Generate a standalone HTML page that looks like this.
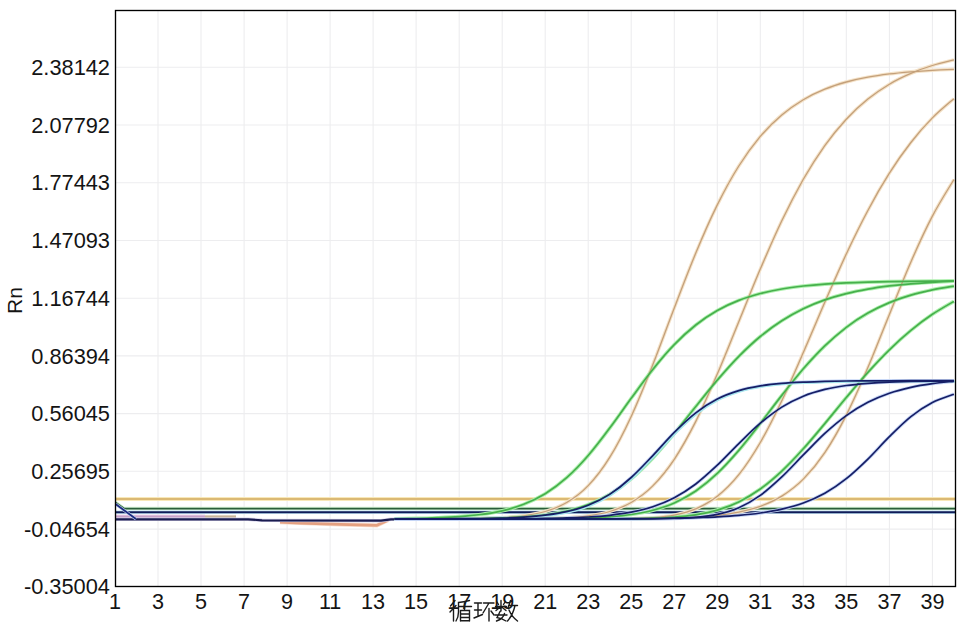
<!DOCTYPE html><html><head><meta charset="utf-8"><style>html,body{margin:0;padding:0;background:#fff;width:968px;height:628px;overflow:hidden}svg{display:block}text{font-family:"Liberation Sans",sans-serif;fill:#141414}</style></head><body>
<svg width="968" height="628" viewBox="0 0 968 628">
<path d="M158.0 10.5V586.5M201.0 10.5V586.5M244.1 10.5V586.5M287.1 10.5V586.5M330.1 10.5V586.5M373.1 10.5V586.5M416.1 10.5V586.5M459.2 10.5V586.5M502.2 10.5V586.5M545.2 10.5V586.5M588.2 10.5V586.5M631.2 10.5V586.5M674.3 10.5V586.5M717.3 10.5V586.5M760.3 10.5V586.5M803.3 10.5V586.5M846.3 10.5V586.5M889.4 10.5V586.5M932.4 10.5V586.5M115.5 67.3H955.5M115.5 125.0H955.5M115.5 182.7H955.5M115.5 240.5H955.5M115.5 298.2H955.5M115.5 355.9H955.5M115.5 413.6H955.5M115.5 471.3H955.5M115.5 529.1H955.5" stroke="#ededef" stroke-width="1.1" fill="none"/>
<text x="110" y="74.9" font-size="21.8" text-anchor="end">2.38142</text>
<text x="110" y="132.6" font-size="21.8" text-anchor="end">2.07792</text>
<text x="110" y="190.3" font-size="21.8" text-anchor="end">1.77443</text>
<text x="110" y="248.1" font-size="21.8" text-anchor="end">1.47093</text>
<text x="110" y="305.8" font-size="21.8" text-anchor="end">1.16744</text>
<text x="110" y="363.5" font-size="21.8" text-anchor="end">0.86394</text>
<text x="110" y="421.2" font-size="21.8" text-anchor="end">0.56045</text>
<text x="110" y="478.9" font-size="21.8" text-anchor="end">0.25695</text>
<text x="110" y="536.7" font-size="21.8" text-anchor="end">-0.04654</text>
<text x="110" y="594.4" font-size="21.8" text-anchor="end">-0.35004</text>
<text x="115.0" y="609" font-size="21.6" text-anchor="middle">1</text>
<text x="158.0" y="609" font-size="21.6" text-anchor="middle">3</text>
<text x="201.0" y="609" font-size="21.6" text-anchor="middle">5</text>
<text x="244.1" y="609" font-size="21.6" text-anchor="middle">7</text>
<text x="287.1" y="609" font-size="21.6" text-anchor="middle">9</text>
<text x="330.1" y="609" font-size="21.6" text-anchor="middle">11</text>
<text x="373.1" y="609" font-size="21.6" text-anchor="middle">13</text>
<text x="416.1" y="609" font-size="21.6" text-anchor="middle">15</text>
<text x="459.2" y="609" font-size="21.6" text-anchor="middle">17</text>
<text x="502.2" y="609" font-size="21.6" text-anchor="middle">19</text>
<text x="545.2" y="609" font-size="21.6" text-anchor="middle">21</text>
<text x="588.2" y="609" font-size="21.6" text-anchor="middle">23</text>
<text x="631.2" y="609" font-size="21.6" text-anchor="middle">25</text>
<text x="674.3" y="609" font-size="21.6" text-anchor="middle">27</text>
<text x="717.3" y="609" font-size="21.6" text-anchor="middle">29</text>
<text x="760.3" y="609" font-size="21.6" text-anchor="middle">31</text>
<text x="803.3" y="609" font-size="21.6" text-anchor="middle">33</text>
<text x="846.3" y="609" font-size="21.6" text-anchor="middle">35</text>
<text x="889.4" y="609" font-size="21.6" text-anchor="middle">37</text>
<text x="932.4" y="609" font-size="21.6" text-anchor="middle">39</text>
<text x="0" y="0" font-size="21" text-anchor="middle" transform="translate(21.5 300.5) rotate(-90)">Rn</text>
<path d="M115.5 516.6H205" stroke="#ecd8ec" stroke-width="4" fill="none" stroke-linejoin="round"/>
<path d="M115.5 516.6H205" stroke="#c8a0c8" stroke-width="2.4" fill="none" stroke-linejoin="round"/>
<path d="M205 516.7H236" stroke="#efe4d8" stroke-width="3.5" fill="none" stroke-linejoin="round"/>
<path d="M205 516.7H236" stroke="#c8b49a" stroke-width="2.2" fill="none" stroke-linejoin="round"/>
<path d="M280 522.2 L300 523 L340 524.4 L377 525.3 L388 520.2" stroke="#f8dccc" stroke-width="4.2" fill="none" stroke-linejoin="round"/>
<path d="M280 522.2 L300 523 L340 524.4 L377 525.3 L388 520.2" stroke="#e4a080" stroke-width="2.8" fill="none" stroke-linejoin="round"/>
<path d="M115.5 519.6H209" stroke="#cfe8cf" stroke-width="3" fill="none" stroke-linejoin="round"/>
<path d="M115.5 519.6H209" stroke="#2f5a3a" stroke-width="1.8" fill="none" stroke-linejoin="round"/>
<path d="M115.5 499H955.5" stroke="#f8e8b8" stroke-width="4" fill="none" stroke-linejoin="round"/>
<path d="M115.5 499H955.5" stroke="#d2aa5e" stroke-width="1.7" fill="none" stroke-linejoin="round"/>
<path d="M115.5 502.5L124 508.6H955.5" stroke="#d4f2d4" stroke-width="3.5" fill="none" stroke-linejoin="round"/>
<path d="M115.5 502.5L124 508.6H955.5" stroke="#2a5e3a" stroke-width="1.8" fill="none" stroke-linejoin="round"/>
<path d="M115.5 512.3H955.5" stroke="#c4e4f4" stroke-width="3.5" fill="none" stroke-linejoin="round"/>
<path d="M115.5 512.3H955.5" stroke="#101c58" stroke-width="1.9" fill="none" stroke-linejoin="round"/>
<path d="M115.5 519.3H248 L262 520.3 L381 520.7 L391 519.3 L420 519.1" stroke="#d8d4ec" stroke-width="3.5" fill="none" stroke-linejoin="round"/>
<path d="M115.5 519.3H248 L262 520.3 L381 520.7 L391 519.3 L420 519.1" stroke="#1a1c50" stroke-width="2.2" fill="none" stroke-linejoin="round"/>
<path d="M115.5 504L136 519" stroke="#c8d8f0" stroke-width="3" fill="none" stroke-linejoin="round"/>
<path d="M115.5 504L136 519" stroke="#1c2a80" stroke-width="1.8" fill="none" stroke-linejoin="round"/>
<path d="M394.6 519.0 C398.2 519.0 409.0 519.0 416.1 519.0 C423.3 519.0 430.5 519.0 437.7 518.9 C444.8 518.9 452.0 518.9 459.2 518.8 C466.3 518.7 473.5 518.7 480.7 518.5 C487.8 518.3 495.0 518.1 502.2 517.7 C509.4 517.2 516.5 516.8 523.7 515.8 C530.9 514.7 538.0 513.7 545.2 511.5 C552.4 509.3 559.5 506.8 566.7 502.5 C573.9 498.2 581.1 493.1 588.2 485.6 C595.4 478.1 602.6 468.9 609.7 457.4 C616.9 445.8 624.1 431.8 631.2 416.4 C638.4 400.9 645.6 382.8 652.8 364.7 C659.9 346.7 667.1 326.6 674.3 308.0 C681.4 289.4 688.6 270.2 695.8 253.1 C702.9 235.9 710.1 219.4 717.3 204.9 C724.5 190.4 731.6 177.4 738.8 166.0 C746.0 154.6 753.1 145.0 760.3 136.4 C767.5 127.9 774.6 121.0 781.8 114.9 C789.0 108.8 796.2 104.0 803.3 99.7 C810.5 95.4 817.7 92.1 824.8 89.2 C832.0 86.2 839.2 84.0 846.3 82.0 C853.5 80.0 860.7 78.5 867.9 77.2 C875.0 75.8 882.2 74.8 889.4 73.9 C896.5 73.0 903.7 72.4 910.9 71.8 C918.0 71.2 925.2 70.7 932.4 70.3 C939.6 69.9 950.3 69.5 953.9 69.3" stroke="#f4e2c8" stroke-width="3.4" fill="none"/>
<path d="M394.6 519.0 C398.2 519.0 409.0 519.0 416.1 519.0 C423.3 519.0 430.5 519.0 437.7 519.0 C444.8 519.0 452.0 519.0 459.2 519.0 C466.3 519.0 473.5 519.0 480.7 519.0 C487.8 519.0 495.0 519.0 502.2 518.9 C509.4 518.9 516.5 518.9 523.7 518.8 C530.9 518.8 538.0 518.7 545.2 518.5 C552.4 518.4 559.5 518.2 566.7 517.8 C573.9 517.3 581.1 516.9 588.2 515.8 C595.4 514.8 602.6 513.7 609.7 511.5 C616.9 509.2 624.1 506.7 631.2 502.5 C638.4 498.2 645.6 493.2 652.8 485.9 C659.9 478.7 667.1 470.0 674.3 459.3 C681.4 448.5 688.6 435.6 695.8 421.4 C702.9 407.2 710.1 390.7 717.3 374.1 C724.5 357.5 731.6 339.2 738.8 321.7 C746.0 304.2 753.1 285.9 760.3 269.1 C767.5 252.3 774.6 235.8 781.8 220.8 C789.0 205.8 796.2 191.9 803.3 179.3 C810.5 166.8 817.7 155.6 824.8 145.6 C832.0 135.5 839.2 126.9 846.3 119.2 C853.5 111.4 860.7 104.9 867.9 99.1 C875.0 93.3 882.2 88.5 889.4 84.2 C896.5 79.9 903.7 76.5 910.9 73.4 C918.0 70.2 925.2 67.7 932.4 65.5 C939.6 63.2 950.3 60.8 953.9 59.9" stroke="#f4e2c8" stroke-width="3.4" fill="none"/>
<path d="M394.6 519.0 C398.2 519.0 409.0 519.0 416.1 519.0 C423.3 519.0 430.5 519.0 437.7 519.0 C444.8 519.0 452.0 519.0 459.2 519.0 C466.3 519.0 473.5 519.0 480.7 519.0 C487.8 519.0 495.0 519.0 502.2 519.0 C509.4 519.0 516.5 519.0 523.7 519.0 C530.9 519.0 538.0 519.0 545.2 519.0 C552.4 519.0 559.5 519.0 566.7 519.0 C573.9 519.0 581.1 519.0 588.2 519.0 C595.4 519.0 602.6 519.0 609.7 518.9 C616.9 518.8 624.1 518.8 631.2 518.6 C638.4 518.4 645.6 518.3 652.8 517.7 C659.9 517.1 667.1 516.5 674.3 515.1 C681.4 513.6 688.6 512.0 695.8 508.9 C702.9 505.8 710.1 502.0 717.3 496.3 C724.5 490.6 731.6 483.7 738.8 474.7 C746.0 465.7 753.1 454.8 760.3 442.5 C767.5 430.1 774.6 415.7 781.8 400.7 C789.0 385.7 796.2 368.9 803.3 352.5 C810.5 336.1 817.7 318.7 824.8 302.3 C832.0 285.9 839.2 269.3 846.3 254.0 C853.5 238.7 860.7 223.9 867.9 210.5 C875.0 197.0 882.2 184.5 889.4 173.2 C896.5 161.8 903.7 151.7 910.9 142.5 C918.0 133.3 925.2 125.2 932.4 117.9 C939.6 110.6 950.3 101.9 953.9 98.7" stroke="#f4e2c8" stroke-width="3.4" fill="none"/>
<path d="M394.6 519.0 C398.2 519.0 409.0 519.0 416.1 519.0 C423.3 519.0 430.5 519.0 437.7 519.0 C444.8 519.0 452.0 519.0 459.2 519.0 C466.3 519.0 473.5 519.0 480.7 519.0 C487.8 519.0 495.0 519.0 502.2 519.0 C509.4 519.0 516.5 519.0 523.7 519.0 C530.9 519.0 538.0 519.0 545.2 519.0 C552.4 519.0 559.5 519.0 566.7 519.0 C573.9 519.0 581.1 518.9 588.2 518.9 C595.4 518.9 602.6 518.9 609.7 518.9 C616.9 518.8 624.1 518.8 631.2 518.7 C638.4 518.7 645.6 518.6 652.8 518.5 C659.9 518.3 667.1 518.2 674.3 518.0 C681.4 517.7 688.6 517.5 695.8 517.1 C702.9 516.6 710.1 516.1 717.3 515.3 C724.5 514.5 731.6 513.6 738.8 512.1 C746.0 510.6 753.1 508.9 760.3 506.3 C767.5 503.6 774.6 500.6 781.8 496.1 C789.0 491.5 796.2 486.3 803.3 479.1 C810.5 471.8 817.7 463.3 824.8 452.6 C832.0 442.0 839.2 429.3 846.3 415.1 C853.5 401.0 860.7 384.4 867.9 367.6 C875.0 350.8 882.2 332.0 889.4 314.4 C896.5 296.8 903.7 278.4 910.9 262.0 C918.0 245.6 925.2 229.8 932.4 216.1 C939.6 202.3 950.3 185.6 953.9 179.5" stroke="#f4e2c8" stroke-width="3.4" fill="none"/>
<path d="M394.6 518.7 C398.2 518.6 409.0 518.5 416.1 518.3 C423.3 518.2 430.5 518.0 437.7 517.7 C444.8 517.4 452.0 517.1 459.2 516.6 C466.3 516.1 473.5 515.5 480.7 514.5 C487.8 513.6 495.0 512.5 502.2 510.8 C509.4 509.1 516.5 507.2 523.7 504.3 C530.9 501.5 538.0 498.2 545.2 493.8 C552.4 489.3 559.5 484.1 566.7 477.7 C573.9 471.3 581.1 463.8 588.2 455.5 C595.4 447.2 602.6 437.7 609.7 428.1 C616.9 418.6 624.1 408.0 631.2 398.3 C638.4 388.5 645.6 378.4 652.8 369.5 C659.9 360.5 667.1 352.0 674.3 344.6 C681.4 337.2 688.6 330.7 695.8 325.0 C702.9 319.3 710.1 314.6 717.3 310.5 C724.5 306.4 731.6 303.2 738.8 300.4 C746.0 297.5 753.1 295.4 760.3 293.5 C767.5 291.6 774.6 290.2 781.8 289.0 C789.0 287.7 796.2 286.8 803.3 286.0 C810.5 285.2 817.7 284.6 824.8 284.1 C832.0 283.6 839.2 283.2 846.3 282.9 C853.5 282.5 860.7 282.3 867.9 282.1 C875.0 281.9 882.2 281.7 889.4 281.6 C896.5 281.5 903.7 281.4 910.9 281.3 C918.0 281.2 925.2 281.1 932.4 281.1 C939.6 281.0 950.3 281.0 953.9 280.9" stroke="#aef0ae" stroke-width="3.6" fill="none"/>
<path d="M394.6 519.0 C398.2 519.0 409.0 519.0 416.1 518.9 C423.3 518.9 430.5 518.9 437.7 518.9 C444.8 518.8 452.0 518.8 459.2 518.7 C466.3 518.7 473.5 518.6 480.7 518.5 C487.8 518.3 495.0 518.2 502.2 517.9 C509.4 517.7 516.5 517.4 523.7 516.9 C530.9 516.3 538.0 515.8 545.2 514.8 C552.4 513.9 559.5 512.8 566.7 511.1 C573.9 509.4 581.1 507.4 588.2 504.6 C595.4 501.8 602.6 498.5 609.7 494.2 C616.9 489.9 624.1 484.8 631.2 478.8 C638.4 472.8 645.6 465.7 652.8 458.2 C659.9 450.6 667.1 442.0 674.3 433.4 C681.4 424.8 688.6 415.4 695.8 406.5 C702.9 397.6 710.1 388.5 717.3 380.1 C724.5 371.8 731.6 363.7 738.8 356.4 C746.0 349.1 753.1 342.4 760.3 336.5 C767.5 330.5 774.6 325.3 781.8 320.7 C789.0 316.1 796.2 312.2 803.3 308.7 C810.5 305.3 817.7 302.4 824.8 299.9 C832.0 297.4 839.2 295.4 846.3 293.6 C853.5 291.8 860.7 290.4 867.9 289.1 C875.0 287.8 882.2 286.8 889.4 285.9 C896.5 285.1 903.7 284.4 910.9 283.8 C918.0 283.2 925.2 282.7 932.4 282.3 C939.6 281.8 950.3 281.4 953.9 281.2" stroke="#aef0ae" stroke-width="3.6" fill="none"/>
<path d="M394.6 519.0 C398.2 519.0 409.0 519.0 416.1 519.0 C423.3 519.0 430.5 519.0 437.7 519.0 C444.8 519.0 452.0 519.0 459.2 519.0 C466.3 519.0 473.5 519.0 480.7 519.0 C487.8 519.0 495.0 519.0 502.2 519.0 C509.4 518.9 516.5 518.9 523.7 518.9 C530.9 518.9 538.0 518.8 545.2 518.8 C552.4 518.7 559.5 518.6 566.7 518.5 C573.9 518.4 581.1 518.2 588.2 517.9 C595.4 517.7 602.6 517.4 609.7 516.8 C616.9 516.2 624.1 515.6 631.2 514.5 C638.4 513.5 645.6 512.3 652.8 510.3 C659.9 508.4 667.1 506.2 674.3 502.9 C681.4 499.7 688.6 495.9 695.8 491.0 C702.9 486.0 710.1 480.2 717.3 473.4 C724.5 466.7 731.6 458.7 738.8 450.4 C746.0 442.1 753.1 432.7 760.3 423.5 C767.5 414.3 774.6 404.5 781.8 395.4 C789.0 386.3 796.2 377.1 803.3 368.8 C810.5 360.6 817.7 352.8 824.8 345.9 C832.0 339.0 839.2 332.8 846.3 327.3 C853.5 321.8 860.7 317.2 867.9 313.1 C875.0 309.0 882.2 305.6 889.4 302.6 C896.5 299.6 903.7 297.2 910.9 295.1 C918.0 292.9 925.2 291.3 932.4 289.8 C939.6 288.3 950.3 286.7 953.9 286.1" stroke="#aef0ae" stroke-width="3.6" fill="none"/>
<path d="M394.6 519.0 C398.2 519.0 409.0 519.0 416.1 519.0 C423.3 519.0 430.5 519.0 437.7 519.0 C444.8 519.0 452.0 519.0 459.2 519.0 C466.3 519.0 473.5 519.0 480.7 519.0 C487.8 519.0 495.0 519.0 502.2 519.0 C509.4 519.0 516.5 519.0 523.7 519.0 C530.9 519.0 538.0 519.0 545.2 519.0 C552.4 519.0 559.5 519.0 566.7 519.0 C573.9 519.0 581.1 519.0 588.2 519.0 C595.4 518.9 602.6 518.9 609.7 518.9 C616.9 518.9 624.1 518.8 631.2 518.7 C638.4 518.6 645.6 518.5 652.8 518.2 C659.9 518.0 667.1 517.7 674.3 517.1 C681.4 516.6 688.6 515.9 695.8 514.8 C702.9 513.6 710.1 512.2 717.3 510.1 C724.5 507.9 731.6 505.4 738.8 501.9 C746.0 498.3 753.1 494.1 760.3 489.0 C767.5 483.9 774.6 477.8 781.8 471.1 C789.0 464.4 796.2 456.7 803.3 448.8 C810.5 440.9 817.7 432.1 824.8 423.6 C832.0 415.0 839.2 406.0 846.3 397.5 C853.5 389.0 860.7 380.4 867.9 372.4 C875.0 364.5 882.2 356.8 889.4 349.8 C896.5 342.8 903.7 336.3 910.9 330.4 C918.0 324.5 925.2 319.1 932.4 314.3 C939.6 309.5 950.3 303.5 953.9 301.4" stroke="#aef0ae" stroke-width="3.6" fill="none"/>
<path d="M394.6 519.0 C398.2 519.0 409.0 519.0 416.1 518.9 C423.3 518.9 430.5 518.9 437.7 518.9 C444.8 518.8 452.0 518.8 459.2 518.7 C466.3 518.7 473.5 518.6 480.7 518.5 C487.8 518.4 495.0 518.2 502.2 518.0 C509.4 517.8 516.5 517.5 523.7 517.1 C530.9 516.6 538.0 516.1 545.2 515.2 C552.4 514.3 559.5 513.4 566.7 511.7 C573.9 510.1 581.1 508.2 588.2 505.3 C595.4 502.4 602.6 499.0 609.7 494.4 C616.9 489.7 624.1 484.0 631.2 477.5 C638.4 471.1 645.6 463.1 652.8 455.6 C659.9 448.1 667.1 439.6 674.3 432.4 C681.4 425.3 688.6 418.4 695.8 412.8 C702.9 407.2 710.1 402.7 717.3 399.0 C724.5 395.3 731.6 392.8 738.8 390.6 C746.0 388.4 753.1 387.1 760.3 385.9 C767.5 384.7 774.6 384.0 781.8 383.4 C789.0 382.7 796.2 382.4 803.3 382.1 C810.5 381.7 817.7 381.6 824.8 381.4 C832.0 381.2 839.2 381.1 846.3 381.0 C853.5 381.0 860.7 380.9 867.9 380.9 C875.0 380.8 882.2 380.8 889.4 380.8 C896.5 380.8 903.7 380.8 910.9 380.7 C918.0 380.7 925.2 380.7 932.4 380.7 C939.6 380.7 950.3 380.7 953.9 380.7" stroke="#c6d6f6" stroke-width="3.4" fill="none"/>
<path d="M394.6 519.0 C398.2 519.0 409.0 519.0 416.1 519.0 C423.3 519.0 430.5 519.0 437.7 519.0 C444.8 519.0 452.0 519.0 459.2 519.0 C466.3 518.9 473.5 518.9 480.7 518.9 C487.8 518.9 495.0 518.9 502.2 518.8 C509.4 518.8 516.5 518.8 523.7 518.7 C530.9 518.6 538.0 518.6 545.2 518.4 C552.4 518.3 559.5 518.2 566.7 517.9 C573.9 517.7 581.1 517.4 588.2 517.0 C595.4 516.6 602.6 516.1 609.7 515.3 C616.9 514.5 624.1 513.6 631.2 512.2 C638.4 510.8 645.6 509.2 652.8 506.8 C659.9 504.4 667.1 501.6 674.3 497.8 C681.4 494.0 688.6 489.4 695.8 484.0 C702.9 478.5 710.1 471.9 717.3 465.2 C724.5 458.4 731.6 450.6 738.8 443.6 C746.0 436.6 753.1 429.3 760.3 423.2 C767.5 417.2 774.6 411.7 781.8 407.1 C789.0 402.6 796.2 399.1 803.3 396.2 C810.5 393.2 817.7 391.2 824.8 389.4 C832.0 387.6 839.2 386.5 846.3 385.5 C853.5 384.5 860.7 383.9 867.9 383.3 C875.0 382.8 882.2 382.4 889.4 382.1 C896.5 381.8 903.7 381.7 910.9 381.5 C918.0 381.3 925.2 381.2 932.4 381.2 C939.6 381.1 950.3 381.0 953.9 381.0" stroke="#c6d6f6" stroke-width="3.4" fill="none"/>
<path d="M394.6 519.0 C398.2 519.0 409.0 519.0 416.1 519.0 C423.3 519.0 430.5 519.0 437.7 519.0 C444.8 519.0 452.0 519.0 459.2 519.0 C466.3 519.0 473.5 519.0 480.7 519.0 C487.8 519.0 495.0 519.0 502.2 519.0 C509.4 519.0 516.5 519.0 523.7 519.0 C530.9 519.0 538.0 519.0 545.2 519.0 C552.4 519.0 559.5 519.0 566.7 519.0 C573.9 519.0 581.1 519.0 588.2 519.0 C595.4 519.0 602.6 519.0 609.7 519.0 C616.9 519.0 624.1 519.0 631.2 519.0 C638.4 518.9 645.6 518.9 652.8 518.8 C659.9 518.8 667.1 518.7 674.3 518.5 C681.4 518.2 688.6 518.1 695.8 517.4 C702.9 516.7 710.1 516.0 717.3 514.4 C724.5 512.9 731.6 511.0 738.8 507.8 C746.0 504.6 753.1 500.5 760.3 495.4 C767.5 490.2 774.6 483.6 781.8 476.9 C789.0 470.2 796.2 462.1 803.3 454.9 C810.5 447.7 817.7 440.0 824.8 433.4 C832.0 426.9 839.2 420.7 846.3 415.6 C853.5 410.4 860.7 406.0 867.9 402.3 C875.0 398.6 882.2 395.7 889.4 393.2 C896.5 390.7 903.7 388.9 910.9 387.3 C918.0 385.7 925.2 384.6 932.4 383.6 C939.6 382.6 950.3 381.7 953.9 381.3" stroke="#c6d6f6" stroke-width="3.4" fill="none"/>
<path d="M394.6 519.0 C398.2 519.0 409.0 519.0 416.1 519.0 C423.3 519.0 430.5 519.0 437.7 519.0 C444.8 519.0 452.0 519.0 459.2 519.0 C466.3 519.0 473.5 519.0 480.7 519.0 C487.8 519.0 495.0 519.0 502.2 519.0 C509.4 519.0 516.5 519.0 523.7 519.0 C530.9 519.0 538.0 519.0 545.2 519.0 C552.4 519.0 559.5 518.9 566.7 518.9 C573.9 518.9 581.1 518.9 588.2 518.9 C595.4 518.9 602.6 518.9 609.7 518.8 C616.9 518.8 624.1 518.8 631.2 518.7 C638.4 518.7 645.6 518.6 652.8 518.5 C659.9 518.4 667.1 518.3 674.3 518.2 C681.4 518.1 688.6 517.9 695.8 517.7 C702.9 517.4 710.1 517.2 717.3 516.8 C724.5 516.4 731.6 516.0 738.8 515.4 C746.0 514.8 753.1 514.1 760.3 513.0 C767.5 512.0 774.6 510.9 781.8 509.2 C789.0 507.5 796.2 505.7 803.3 503.0 C810.5 500.4 817.7 497.3 824.8 493.3 C832.0 489.2 839.2 484.4 846.3 478.7 C853.5 473.0 860.7 466.1 867.9 459.1 C875.0 452.1 882.2 443.8 889.4 436.7 C896.5 429.6 903.7 422.3 910.9 416.6 C918.0 410.8 925.2 406.1 932.4 402.4 C939.6 398.7 950.3 395.6 953.9 394.2" stroke="#c6d6f6" stroke-width="3.4" fill="none"/>
<path d="M394.6 519.0 C398.2 519.0 409.0 519.0 416.1 519.0 C423.3 519.0 430.5 519.0 437.7 518.9 C444.8 518.9 452.0 518.9 459.2 518.8 C466.3 518.7 473.5 518.7 480.7 518.5 C487.8 518.3 495.0 518.1 502.2 517.7 C509.4 517.2 516.5 516.8 523.7 515.8 C530.9 514.7 538.0 513.7 545.2 511.5 C552.4 509.3 559.5 506.8 566.7 502.5 C573.9 498.2 581.1 493.1 588.2 485.6 C595.4 478.1 602.6 468.9 609.7 457.4 C616.9 445.8 624.1 431.8 631.2 416.4 C638.4 400.9 645.6 382.8 652.8 364.7 C659.9 346.7 667.1 326.6 674.3 308.0 C681.4 289.4 688.6 270.2 695.8 253.1 C702.9 235.9 710.1 219.4 717.3 204.9 C724.5 190.4 731.6 177.4 738.8 166.0 C746.0 154.6 753.1 145.0 760.3 136.4 C767.5 127.9 774.6 121.0 781.8 114.9 C789.0 108.8 796.2 104.0 803.3 99.7 C810.5 95.4 817.7 92.1 824.8 89.2 C832.0 86.2 839.2 84.0 846.3 82.0 C853.5 80.0 860.7 78.5 867.9 77.2 C875.0 75.8 882.2 74.8 889.4 73.9 C896.5 73.0 903.7 72.4 910.9 71.8 C918.0 71.2 925.2 70.7 932.4 70.3 C939.6 69.9 950.3 69.5 953.9 69.3" stroke="#c4a07a" stroke-width="1.3" fill="none" stroke-linejoin="round"/>
<path d="M394.6 519.0 C398.2 519.0 409.0 519.0 416.1 519.0 C423.3 519.0 430.5 519.0 437.7 519.0 C444.8 519.0 452.0 519.0 459.2 519.0 C466.3 519.0 473.5 519.0 480.7 519.0 C487.8 519.0 495.0 519.0 502.2 518.9 C509.4 518.9 516.5 518.9 523.7 518.8 C530.9 518.8 538.0 518.7 545.2 518.5 C552.4 518.4 559.5 518.2 566.7 517.8 C573.9 517.3 581.1 516.9 588.2 515.8 C595.4 514.8 602.6 513.7 609.7 511.5 C616.9 509.2 624.1 506.7 631.2 502.5 C638.4 498.2 645.6 493.2 652.8 485.9 C659.9 478.7 667.1 470.0 674.3 459.3 C681.4 448.5 688.6 435.6 695.8 421.4 C702.9 407.2 710.1 390.7 717.3 374.1 C724.5 357.5 731.6 339.2 738.8 321.7 C746.0 304.2 753.1 285.9 760.3 269.1 C767.5 252.3 774.6 235.8 781.8 220.8 C789.0 205.8 796.2 191.9 803.3 179.3 C810.5 166.8 817.7 155.6 824.8 145.6 C832.0 135.5 839.2 126.9 846.3 119.2 C853.5 111.4 860.7 104.9 867.9 99.1 C875.0 93.3 882.2 88.5 889.4 84.2 C896.5 79.9 903.7 76.5 910.9 73.4 C918.0 70.2 925.2 67.7 932.4 65.5 C939.6 63.2 950.3 60.8 953.9 59.9" stroke="#c4a07a" stroke-width="1.3" fill="none" stroke-linejoin="round"/>
<path d="M394.6 519.0 C398.2 519.0 409.0 519.0 416.1 519.0 C423.3 519.0 430.5 519.0 437.7 519.0 C444.8 519.0 452.0 519.0 459.2 519.0 C466.3 519.0 473.5 519.0 480.7 519.0 C487.8 519.0 495.0 519.0 502.2 519.0 C509.4 519.0 516.5 519.0 523.7 519.0 C530.9 519.0 538.0 519.0 545.2 519.0 C552.4 519.0 559.5 519.0 566.7 519.0 C573.9 519.0 581.1 519.0 588.2 519.0 C595.4 519.0 602.6 519.0 609.7 518.9 C616.9 518.8 624.1 518.8 631.2 518.6 C638.4 518.4 645.6 518.3 652.8 517.7 C659.9 517.1 667.1 516.5 674.3 515.1 C681.4 513.6 688.6 512.0 695.8 508.9 C702.9 505.8 710.1 502.0 717.3 496.3 C724.5 490.6 731.6 483.7 738.8 474.7 C746.0 465.7 753.1 454.8 760.3 442.5 C767.5 430.1 774.6 415.7 781.8 400.7 C789.0 385.7 796.2 368.9 803.3 352.5 C810.5 336.1 817.7 318.7 824.8 302.3 C832.0 285.9 839.2 269.3 846.3 254.0 C853.5 238.7 860.7 223.9 867.9 210.5 C875.0 197.0 882.2 184.5 889.4 173.2 C896.5 161.8 903.7 151.7 910.9 142.5 C918.0 133.3 925.2 125.2 932.4 117.9 C939.6 110.6 950.3 101.9 953.9 98.7" stroke="#c4a07a" stroke-width="1.3" fill="none" stroke-linejoin="round"/>
<path d="M394.6 519.0 C398.2 519.0 409.0 519.0 416.1 519.0 C423.3 519.0 430.5 519.0 437.7 519.0 C444.8 519.0 452.0 519.0 459.2 519.0 C466.3 519.0 473.5 519.0 480.7 519.0 C487.8 519.0 495.0 519.0 502.2 519.0 C509.4 519.0 516.5 519.0 523.7 519.0 C530.9 519.0 538.0 519.0 545.2 519.0 C552.4 519.0 559.5 519.0 566.7 519.0 C573.9 519.0 581.1 518.9 588.2 518.9 C595.4 518.9 602.6 518.9 609.7 518.9 C616.9 518.8 624.1 518.8 631.2 518.7 C638.4 518.7 645.6 518.6 652.8 518.5 C659.9 518.3 667.1 518.2 674.3 518.0 C681.4 517.7 688.6 517.5 695.8 517.1 C702.9 516.6 710.1 516.1 717.3 515.3 C724.5 514.5 731.6 513.6 738.8 512.1 C746.0 510.6 753.1 508.9 760.3 506.3 C767.5 503.6 774.6 500.6 781.8 496.1 C789.0 491.5 796.2 486.3 803.3 479.1 C810.5 471.8 817.7 463.3 824.8 452.6 C832.0 442.0 839.2 429.3 846.3 415.1 C853.5 401.0 860.7 384.4 867.9 367.6 C875.0 350.8 882.2 332.0 889.4 314.4 C896.5 296.8 903.7 278.4 910.9 262.0 C918.0 245.6 925.2 229.8 932.4 216.1 C939.6 202.3 950.3 185.6 953.9 179.5" stroke="#c4a07a" stroke-width="1.3" fill="none" stroke-linejoin="round"/>
<path d="M394.6 518.7 C398.2 518.6 409.0 518.5 416.1 518.3 C423.3 518.2 430.5 518.0 437.7 517.7 C444.8 517.4 452.0 517.1 459.2 516.6 C466.3 516.1 473.5 515.5 480.7 514.5 C487.8 513.6 495.0 512.5 502.2 510.8 C509.4 509.1 516.5 507.2 523.7 504.3 C530.9 501.5 538.0 498.2 545.2 493.8 C552.4 489.3 559.5 484.1 566.7 477.7 C573.9 471.3 581.1 463.8 588.2 455.5 C595.4 447.2 602.6 437.7 609.7 428.1 C616.9 418.6 624.1 408.0 631.2 398.3 C638.4 388.5 645.6 378.4 652.8 369.5 C659.9 360.5 667.1 352.0 674.3 344.6 C681.4 337.2 688.6 330.7 695.8 325.0 C702.9 319.3 710.1 314.6 717.3 310.5 C724.5 306.4 731.6 303.2 738.8 300.4 C746.0 297.5 753.1 295.4 760.3 293.5 C767.5 291.6 774.6 290.2 781.8 289.0 C789.0 287.7 796.2 286.8 803.3 286.0 C810.5 285.2 817.7 284.6 824.8 284.1 C832.0 283.6 839.2 283.2 846.3 282.9 C853.5 282.5 860.7 282.3 867.9 282.1 C875.0 281.9 882.2 281.7 889.4 281.6 C896.5 281.5 903.7 281.4 910.9 281.3 C918.0 281.2 925.2 281.1 932.4 281.1 C939.6 281.0 950.3 281.0 953.9 280.9" stroke="#46b04c" stroke-width="1.7" fill="none" stroke-linejoin="round"/>
<path d="M394.6 519.0 C398.2 519.0 409.0 519.0 416.1 518.9 C423.3 518.9 430.5 518.9 437.7 518.9 C444.8 518.8 452.0 518.8 459.2 518.7 C466.3 518.7 473.5 518.6 480.7 518.5 C487.8 518.3 495.0 518.2 502.2 517.9 C509.4 517.7 516.5 517.4 523.7 516.9 C530.9 516.3 538.0 515.8 545.2 514.8 C552.4 513.9 559.5 512.8 566.7 511.1 C573.9 509.4 581.1 507.4 588.2 504.6 C595.4 501.8 602.6 498.5 609.7 494.2 C616.9 489.9 624.1 484.8 631.2 478.8 C638.4 472.8 645.6 465.7 652.8 458.2 C659.9 450.6 667.1 442.0 674.3 433.4 C681.4 424.8 688.6 415.4 695.8 406.5 C702.9 397.6 710.1 388.5 717.3 380.1 C724.5 371.8 731.6 363.7 738.8 356.4 C746.0 349.1 753.1 342.4 760.3 336.5 C767.5 330.5 774.6 325.3 781.8 320.7 C789.0 316.1 796.2 312.2 803.3 308.7 C810.5 305.3 817.7 302.4 824.8 299.9 C832.0 297.4 839.2 295.4 846.3 293.6 C853.5 291.8 860.7 290.4 867.9 289.1 C875.0 287.8 882.2 286.8 889.4 285.9 C896.5 285.1 903.7 284.4 910.9 283.8 C918.0 283.2 925.2 282.7 932.4 282.3 C939.6 281.8 950.3 281.4 953.9 281.2" stroke="#46b04c" stroke-width="1.7" fill="none" stroke-linejoin="round"/>
<path d="M394.6 519.0 C398.2 519.0 409.0 519.0 416.1 519.0 C423.3 519.0 430.5 519.0 437.7 519.0 C444.8 519.0 452.0 519.0 459.2 519.0 C466.3 519.0 473.5 519.0 480.7 519.0 C487.8 519.0 495.0 519.0 502.2 519.0 C509.4 518.9 516.5 518.9 523.7 518.9 C530.9 518.9 538.0 518.8 545.2 518.8 C552.4 518.7 559.5 518.6 566.7 518.5 C573.9 518.4 581.1 518.2 588.2 517.9 C595.4 517.7 602.6 517.4 609.7 516.8 C616.9 516.2 624.1 515.6 631.2 514.5 C638.4 513.5 645.6 512.3 652.8 510.3 C659.9 508.4 667.1 506.2 674.3 502.9 C681.4 499.7 688.6 495.9 695.8 491.0 C702.9 486.0 710.1 480.2 717.3 473.4 C724.5 466.7 731.6 458.7 738.8 450.4 C746.0 442.1 753.1 432.7 760.3 423.5 C767.5 414.3 774.6 404.5 781.8 395.4 C789.0 386.3 796.2 377.1 803.3 368.8 C810.5 360.6 817.7 352.8 824.8 345.9 C832.0 339.0 839.2 332.8 846.3 327.3 C853.5 321.8 860.7 317.2 867.9 313.1 C875.0 309.0 882.2 305.6 889.4 302.6 C896.5 299.6 903.7 297.2 910.9 295.1 C918.0 292.9 925.2 291.3 932.4 289.8 C939.6 288.3 950.3 286.7 953.9 286.1" stroke="#46b04c" stroke-width="1.7" fill="none" stroke-linejoin="round"/>
<path d="M394.6 519.0 C398.2 519.0 409.0 519.0 416.1 519.0 C423.3 519.0 430.5 519.0 437.7 519.0 C444.8 519.0 452.0 519.0 459.2 519.0 C466.3 519.0 473.5 519.0 480.7 519.0 C487.8 519.0 495.0 519.0 502.2 519.0 C509.4 519.0 516.5 519.0 523.7 519.0 C530.9 519.0 538.0 519.0 545.2 519.0 C552.4 519.0 559.5 519.0 566.7 519.0 C573.9 519.0 581.1 519.0 588.2 519.0 C595.4 518.9 602.6 518.9 609.7 518.9 C616.9 518.9 624.1 518.8 631.2 518.7 C638.4 518.6 645.6 518.5 652.8 518.2 C659.9 518.0 667.1 517.7 674.3 517.1 C681.4 516.6 688.6 515.9 695.8 514.8 C702.9 513.6 710.1 512.2 717.3 510.1 C724.5 507.9 731.6 505.4 738.8 501.9 C746.0 498.3 753.1 494.1 760.3 489.0 C767.5 483.9 774.6 477.8 781.8 471.1 C789.0 464.4 796.2 456.7 803.3 448.8 C810.5 440.9 817.7 432.1 824.8 423.6 C832.0 415.0 839.2 406.0 846.3 397.5 C853.5 389.0 860.7 380.4 867.9 372.4 C875.0 364.5 882.2 356.8 889.4 349.8 C896.5 342.8 903.7 336.3 910.9 330.4 C918.0 324.5 925.2 319.1 932.4 314.3 C939.6 309.5 950.3 303.5 953.9 301.4" stroke="#46b04c" stroke-width="1.7" fill="none" stroke-linejoin="round"/>
<path d="M523.7 517.1 C527.3 516.7 538.0 516.1 545.2 515.2 C552.4 514.3 559.5 513.4 566.7 511.7 C573.9 510.1 581.1 508.2 588.2 505.3 C595.4 502.4 602.6 499.0 609.7 494.4 C616.9 489.7 624.1 484.0 631.2 477.5 C638.4 471.1 645.6 463.1 652.8 455.6 C659.9 448.1 667.1 439.6 674.3 432.4 C681.4 425.3 688.6 418.4 695.8 412.8 C702.9 407.2 710.1 402.7 717.3 399.0 C724.5 395.3 731.6 392.8 738.8 390.6 C746.0 388.4 753.1 387.1 760.3 385.9 C767.5 384.7 774.6 384.0 781.8 383.4 C789.0 382.7 796.2 382.4 803.3 382.1 C810.5 381.7 817.7 381.6 824.8 381.4 C832.0 381.2 839.2 381.1 846.3 381.0 C853.5 381.0 860.7 380.9 867.9 380.9 C875.0 380.8 882.2 380.8 889.4 380.8 C896.5 380.8 903.7 380.8 910.9 380.7 C918.0 380.7 925.2 380.7 932.4 380.7 C939.6 380.7 950.3 380.7 953.9 380.7" stroke="#a8e6ee" stroke-width="2.2" fill="none" stroke-linejoin="round" transform="translate(1.2 0.8)"/>
<path d="M394.6 519.0 C398.2 519.0 409.0 519.0 416.1 518.9 C423.3 518.9 430.5 518.9 437.7 518.9 C444.8 518.8 452.0 518.8 459.2 518.7 C466.3 518.7 473.5 518.6 480.7 518.5 C487.8 518.4 495.0 518.2 502.2 518.0 C509.4 517.8 516.5 517.5 523.7 517.1 C530.9 516.6 538.0 516.1 545.2 515.2 C552.4 514.3 559.5 513.4 566.7 511.7 C573.9 510.1 581.1 508.2 588.2 505.3 C595.4 502.4 602.6 499.0 609.7 494.4 C616.9 489.7 624.1 484.0 631.2 477.5 C638.4 471.1 645.6 463.1 652.8 455.6 C659.9 448.1 667.1 439.6 674.3 432.4 C681.4 425.3 688.6 418.4 695.8 412.8 C702.9 407.2 710.1 402.7 717.3 399.0 C724.5 395.3 731.6 392.8 738.8 390.6 C746.0 388.4 753.1 387.1 760.3 385.9 C767.5 384.7 774.6 384.0 781.8 383.4 C789.0 382.7 796.2 382.4 803.3 382.1 C810.5 381.7 817.7 381.6 824.8 381.4 C832.0 381.2 839.2 381.1 846.3 381.0 C853.5 381.0 860.7 380.9 867.9 380.9 C875.0 380.8 882.2 380.8 889.4 380.8 C896.5 380.8 903.7 380.8 910.9 380.7 C918.0 380.7 925.2 380.7 932.4 380.7 C939.6 380.7 950.3 380.7 953.9 380.7" stroke="#161e66" stroke-width="1.7" fill="none" stroke-linejoin="round"/>
<path d="M394.6 519.0 C398.2 519.0 409.0 519.0 416.1 519.0 C423.3 519.0 430.5 519.0 437.7 519.0 C444.8 519.0 452.0 519.0 459.2 519.0 C466.3 518.9 473.5 518.9 480.7 518.9 C487.8 518.9 495.0 518.9 502.2 518.8 C509.4 518.8 516.5 518.8 523.7 518.7 C530.9 518.6 538.0 518.6 545.2 518.4 C552.4 518.3 559.5 518.2 566.7 517.9 C573.9 517.7 581.1 517.4 588.2 517.0 C595.4 516.6 602.6 516.1 609.7 515.3 C616.9 514.5 624.1 513.6 631.2 512.2 C638.4 510.8 645.6 509.2 652.8 506.8 C659.9 504.4 667.1 501.6 674.3 497.8 C681.4 494.0 688.6 489.4 695.8 484.0 C702.9 478.5 710.1 471.9 717.3 465.2 C724.5 458.4 731.6 450.6 738.8 443.6 C746.0 436.6 753.1 429.3 760.3 423.2 C767.5 417.2 774.6 411.7 781.8 407.1 C789.0 402.6 796.2 399.1 803.3 396.2 C810.5 393.2 817.7 391.2 824.8 389.4 C832.0 387.6 839.2 386.5 846.3 385.5 C853.5 384.5 860.7 383.9 867.9 383.3 C875.0 382.8 882.2 382.4 889.4 382.1 C896.5 381.8 903.7 381.7 910.9 381.5 C918.0 381.3 925.2 381.2 932.4 381.2 C939.6 381.1 950.3 381.0 953.9 381.0" stroke="#161e66" stroke-width="1.7" fill="none" stroke-linejoin="round"/>
<path d="M394.6 519.0 C398.2 519.0 409.0 519.0 416.1 519.0 C423.3 519.0 430.5 519.0 437.7 519.0 C444.8 519.0 452.0 519.0 459.2 519.0 C466.3 519.0 473.5 519.0 480.7 519.0 C487.8 519.0 495.0 519.0 502.2 519.0 C509.4 519.0 516.5 519.0 523.7 519.0 C530.9 519.0 538.0 519.0 545.2 519.0 C552.4 519.0 559.5 519.0 566.7 519.0 C573.9 519.0 581.1 519.0 588.2 519.0 C595.4 519.0 602.6 519.0 609.7 519.0 C616.9 519.0 624.1 519.0 631.2 519.0 C638.4 518.9 645.6 518.9 652.8 518.8 C659.9 518.8 667.1 518.7 674.3 518.5 C681.4 518.2 688.6 518.1 695.8 517.4 C702.9 516.7 710.1 516.0 717.3 514.4 C724.5 512.9 731.6 511.0 738.8 507.8 C746.0 504.6 753.1 500.5 760.3 495.4 C767.5 490.2 774.6 483.6 781.8 476.9 C789.0 470.2 796.2 462.1 803.3 454.9 C810.5 447.7 817.7 440.0 824.8 433.4 C832.0 426.9 839.2 420.7 846.3 415.6 C853.5 410.4 860.7 406.0 867.9 402.3 C875.0 398.6 882.2 395.7 889.4 393.2 C896.5 390.7 903.7 388.9 910.9 387.3 C918.0 385.7 925.2 384.6 932.4 383.6 C939.6 382.6 950.3 381.7 953.9 381.3" stroke="#161e66" stroke-width="1.7" fill="none" stroke-linejoin="round"/>
<path d="M394.6 519.0 C398.2 519.0 409.0 519.0 416.1 519.0 C423.3 519.0 430.5 519.0 437.7 519.0 C444.8 519.0 452.0 519.0 459.2 519.0 C466.3 519.0 473.5 519.0 480.7 519.0 C487.8 519.0 495.0 519.0 502.2 519.0 C509.4 519.0 516.5 519.0 523.7 519.0 C530.9 519.0 538.0 519.0 545.2 519.0 C552.4 519.0 559.5 518.9 566.7 518.9 C573.9 518.9 581.1 518.9 588.2 518.9 C595.4 518.9 602.6 518.9 609.7 518.8 C616.9 518.8 624.1 518.8 631.2 518.7 C638.4 518.7 645.6 518.6 652.8 518.5 C659.9 518.4 667.1 518.3 674.3 518.2 C681.4 518.1 688.6 517.9 695.8 517.7 C702.9 517.4 710.1 517.2 717.3 516.8 C724.5 516.4 731.6 516.0 738.8 515.4 C746.0 514.8 753.1 514.1 760.3 513.0 C767.5 512.0 774.6 510.9 781.8 509.2 C789.0 507.5 796.2 505.7 803.3 503.0 C810.5 500.4 817.7 497.3 824.8 493.3 C832.0 489.2 839.2 484.4 846.3 478.7 C853.5 473.0 860.7 466.1 867.9 459.1 C875.0 452.1 882.2 443.8 889.4 436.7 C896.5 429.6 903.7 422.3 910.9 416.6 C918.0 410.8 925.2 406.1 932.4 402.4 C939.6 398.7 950.3 395.6 953.9 394.2" stroke="#161e66" stroke-width="1.7" fill="none" stroke-linejoin="round"/>
<rect x="115.5" y="10.5" width="840.0" height="576.0" fill="none" stroke="#000" stroke-width="1.35"/>
<g stroke="#1a1a1a" stroke-width="1.4" fill="none" stroke-linecap="round" transform="translate(449.5 600)">
<path d="M5.5 0.5L1 6M6.5 5.5L0.5 12M4 9V21"/>
<path d="M20 0.5Q14 2 9 2.5V12Q9 17 6.5 21M9 6.5H22M15 3V10M11 10.5H20V21M11 10.5V21M11 14H20M11 17.5H20M11 20.8H20"/>
</g>
<g stroke="#1a1a1a" stroke-width="1.4" fill="none" stroke-linecap="round" transform="translate(473.5 600)">
<path d="M1 3H8M1 10H8M4.5 3V16.5M0.5 18L9 14.5"/>
<path d="M10 3H20.5M15.5 3L9.5 13M15.5 8.5V21M17.5 11L20.5 15"/>
</g>
<g stroke="#1a1a1a" stroke-width="1.4" fill="none" stroke-linecap="round" transform="translate(495 600)">
<path d="M2 2L3.5 4.5M10 2L8.5 4.5M0.5 6.5H11.5M6 0.5V11M6 6.5L1 10.5M6 6.5L11 10.5M0 15H12M5 11.5Q3.5 15 2 17.5Q7 18.5 11 21M9.5 13.5Q8 19 1.5 21"/>
<path d="M15.5 0.5L13 8M13.5 5.5H22.5M20 5.5Q18 15 12.5 21M14 10Q17 17 22.5 21"/>
</g>
</svg></body></html>
